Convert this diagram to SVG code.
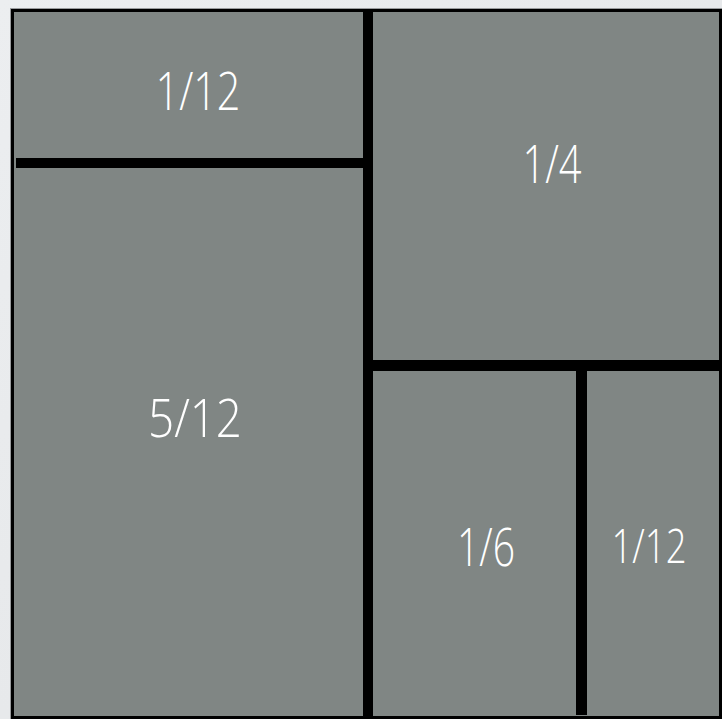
<svg xmlns="http://www.w3.org/2000/svg" width="722" height="719" viewBox="0 0 722 719">
  <style>
    .lbl { fill: #ffffff; font-family: "Open Sans", "Lato", "DejaVu Sans", sans-serif; font-weight: 300; font-size: 53px; text-anchor: middle; }
    .bar { fill: #000000; }
  </style>
  <defs>
    <linearGradient id="bg" x1="0" y1="0" x2="1" y2="1">
      <stop offset="0" stop-color="#eceef0"/>
      <stop offset="1" stop-color="#e2e4e6"/>
    </linearGradient>
  </defs>
  <rect x="0" y="0" width="722" height="719" fill="url(#bg)"/>
  <rect x="10.5" y="8.5" width="712" height="712" fill="none" stroke="#9a9c9e" stroke-width="1"/>
  <rect id="frame" x="12.5" y="10.5" width="708" height="707" fill="#808684" stroke="#000" stroke-width="3"/>

  <g id="cell-top-left">
    <text class="lbl" x="198" y="110" textLength="85" lengthAdjust="spacingAndGlyphs">1/12</text>
  </g>
  <g id="cell-top-right">
    <text class="lbl" x="552" y="183" textLength="59" lengthAdjust="spacingAndGlyphs">1/4</text>
  </g>
  <g id="cell-left">
    <text class="lbl" x="195" y="437" textLength="94" lengthAdjust="spacingAndGlyphs">5/12</text>
  </g>
  <g id="cell-bottom-mid">
    <text class="lbl" x="486" y="566" textLength="58" lengthAdjust="spacingAndGlyphs">1/6</text>
  </g>
  <g id="cell-bottom-right">
    <text class="lbl" x="649" y="563" textLength="75" lengthAdjust="spacingAndGlyphs" style="font-size:47px">1/12</text>
  </g>

  <g id="dividers">
    <rect class="bar" x="363" y="9" width="10" height="710"/>
    <rect class="bar" x="16" y="158" width="350" height="10"/>
    <rect class="bar" x="370" y="360" width="352" height="11"/>
    <rect class="bar" x="576" y="368" width="11" height="347"/>
  </g>
</svg>
